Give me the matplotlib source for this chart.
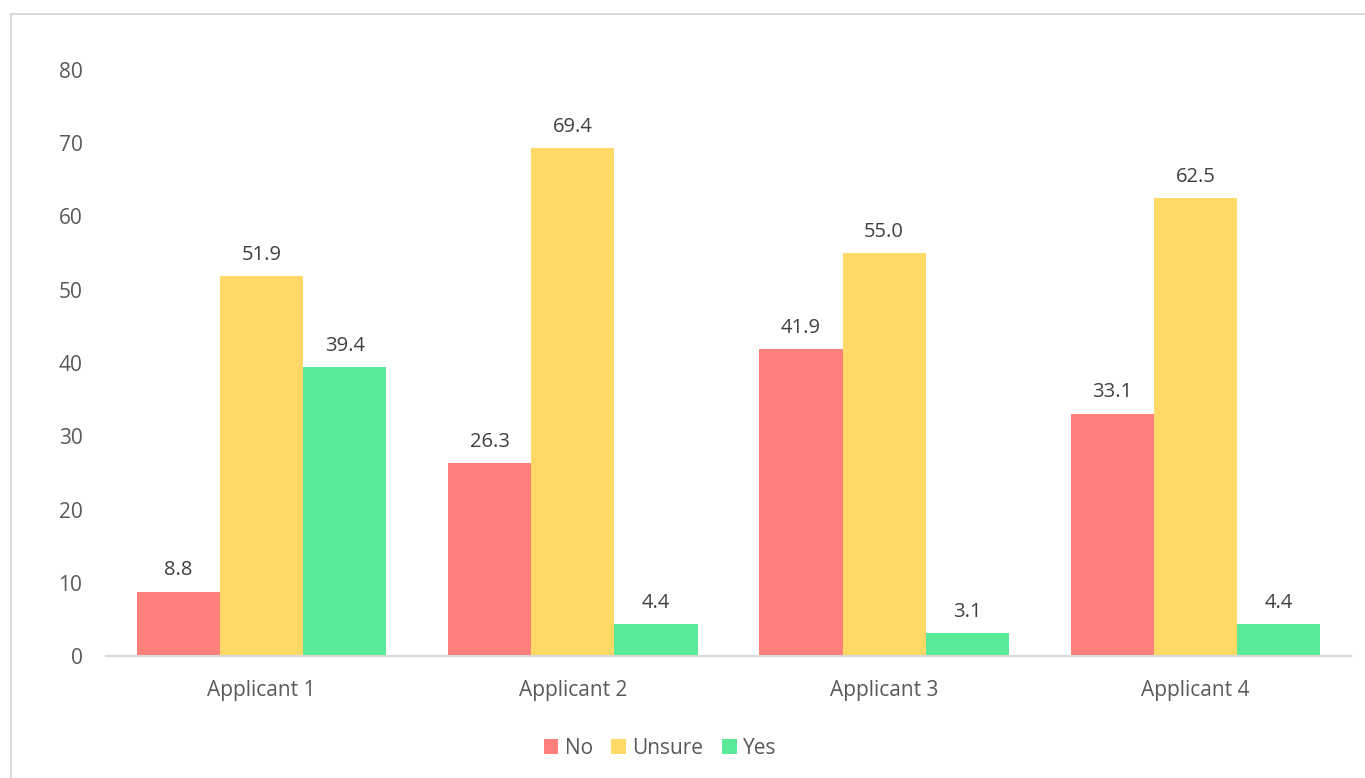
import matplotlib.pyplot as plt
import numpy as np
from matplotlib.patches import Rectangle

applicants = ["Applicant 1", "Applicant 2", "Applicant 3", "Applicant 4"]
no_vals = [8.8, 26.3, 41.9, 33.1]
unsure_vals = [51.9, 69.4, 55.0, 62.5]
yes_vals = [39.4, 4.4, 3.1, 4.4]

series = [("No", no_vals, "#FF7F7A"), ("Unsure", unsure_vals, "#FFD966"), ("Yes", yes_vals, "#5AE996")]

plt.rcParams['font.family'] = ['Open Sans', 'DejaVu Sans']
txt = "#595959"

fig = plt.figure(figsize=(13.65, 7.78), dpi=100)
ax = fig.add_axes([106 / 1365, 1 - 656 / 778, (1351 - 106) / 1365, (656 - 70) / 778])

x = np.arange(len(applicants))
w = 0.267
for i, (name, vals, col) in enumerate(series):
    bars = ax.bar(x + (i - 1) * w, vals, w, color=col, label=name)
    for b, v in zip(bars, vals):
        ax.annotate(f"{v:.1f}", (b.get_x() + b.get_width() / 2, v), xytext=(0, 8),
                    textcoords="offset points", ha="center", va="bottom", fontsize=14.5, color="#404040")

ax.set_xlim(-0.5, 3.5)
ax.set_ylim(0, 80)
ax.set_yticks(range(0, 81, 10))
ax.set_xticks(x)
ax.set_xticklabels(applicants)
ax.tick_params(axis="both", length=0, labelsize=15, colors=txt)
ax.tick_params(axis="y", pad=17)
ax.tick_params(axis="x", pad=17)
for s in ["top", "right", "left"]:
    ax.spines[s].set_visible(False)
ax.spines["bottom"].set_color("#D9D9D9")
ax.spines["bottom"].set_linewidth(1.5)

leg = ax.legend(loc="center", bbox_to_anchor=(660 / 1365, 1 - 748 / 778), bbox_transform=fig.transFigure,
                ncol=3, frameon=False, fontsize=15, handlelength=0.7, handleheight=0.7,
                handletextpad=0.3, columnspacing=0.9)
for t in leg.get_texts():
    t.set_color(txt)

fig.patches.append(Rectangle((11 / 1365, -0.1), 1.2, 1 - 14 / 778 + 0.1, transform=fig.transFigure,
                             fill=False, edgecolor="#D9D9D9", linewidth=1.5))

fig.savefig("out.png", dpi=100)
